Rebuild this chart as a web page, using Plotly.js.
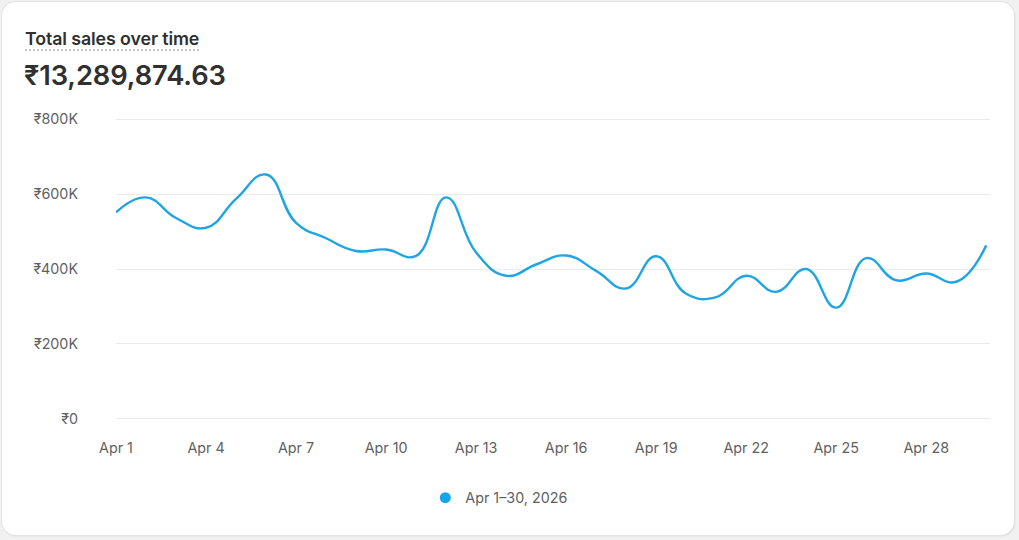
<!DOCTYPE html>
<html>
<head>
<meta charset="utf-8">
<script src="https://cdn.plot.ly/plotly-3.0.1.min.js"></script>
<style>
  html, body { margin: 0; padding: 0; background: #f1f1f1; font-family: Inter, "Noto Sans", sans-serif; }
  .card {
    position: absolute; left: 2px; top: 2px; width: 1012px; height: 533px;
    background: #fff; border-radius: 14px;
    box-shadow: 0 0 0 1px #e3e3e3, 1px 1px 2px rgba(0,0,0,0.12);
    overflow: hidden;
  }
  .title {
    position: absolute; left: 23px; top: 26px; font-size: 17.8px; font-weight: 600; color: #303030;
    border-bottom: 2px dotted #c4c4c4; padding-bottom: 0px; letter-spacing: -0.1px;
  }
  .total {
    position: absolute; left: 22px; top: 57px; font-size: 27.3px; font-weight: 600; color: #303030;
    letter-spacing: -0.1px;
  }
  #salesChart { position: absolute; left: -2px; top: -2px; width: 1019px; height: 540px; }
</style>
</head>
<body>
<div class="card">
  <div id="salesChart"></div>
  <div class="title">Total sales over time</div>
  <div class="total">₹13,289,874.63</div>
</div>
<script>
const days = [
    '2026-04-01', '2026-04-02', '2026-04-03', '2026-04-04', '2026-04-05', '2026-04-06',
    '2026-04-07', '2026-04-08', '2026-04-09', '2026-04-10', '2026-04-11', '2026-04-12',
    '2026-04-13', '2026-04-14', '2026-04-15', '2026-04-16', '2026-04-17', '2026-04-18',
    '2026-04-19', '2026-04-20', '2026-04-21', '2026-04-22', '2026-04-23', '2026-04-24',
    '2026-04-25', '2026-04-26', '2026-04-27', '2026-04-28', '2026-04-29', '2026-04-30'
];
const sales = [
    551000, 591000, 536000, 510000, 587000, 652000,
    523000, 482000, 448000, 452000, 435000, 591000,
    444000, 382000, 412000, 436000, 395000, 348000,
    434000, 334000, 325000, 382000, 339000, 400000,
    297000, 429000, 370000, 388000, 366000, 463000
];
const seriesName = 'Apr 1–30, 2026';
const yTickVals = [0, 200000, 400000, 600000, 800000];
const yTickText = ['₹0', '₹200K', '₹400K', '₹600K', '₹800K'];
const xTickVals = ['2026-04-01', '2026-04-04', '2026-04-07', '2026-04-10', '2026-04-13',
    '2026-04-16', '2026-04-19', '2026-04-22', '2026-04-25', '2026-04-28'];
const xTickText = ['Apr 1', 'Apr 4', 'Apr 7', 'Apr 10', 'Apr 13',
    'Apr 16', 'Apr 19', 'Apr 22', 'Apr 25', 'Apr 28'];

const lineColor = '#1fa5e3';

const trace = {
    x: days,
    y: sales,
    name: seriesName,
    type: 'scatter',
    mode: 'lines',
    line: { color: lineColor, width: 2.4, shape: 'spline', smoothing: 1.3 },
    showlegend: false,
    hoverinfo: 'skip'
};

// legend entry only: round dot like the original
const legendDot = {
    x: [null],
    y: [null],
    name: seriesName,
    type: 'scatter',
    mode: 'markers',
    marker: { color: '#14a6ec', size: 11, symbol: 'circle' },
    showlegend: true
};

const layout = {
    width: 1019,
    height: 540,
    // range padded a little so the 0 and 800K grid lines are drawn
    margin: { l: 116, r: 29, t: 115, b: 117 },
    paper_bgcolor: 'rgba(0,0,0,0)',
    plot_bgcolor: 'rgba(0,0,0,0)',
    font: { family: 'Inter, "Noto Sans", sans-serif', size: 14.3, color: '#616161' },
    showlegend: true,
    legend: {
        orientation: 'h',
        xref: 'container',
        x: 0.49, xanchor: 'center',
        yref: 'container',
        y: 0.078, yanchor: 'middle',
        font: { size: 14.3, color: '#616161' },
        itemwidth: 30
    },
    xaxis: {
        type: 'date',
        range: ['2026-04-01', '2026-04-30 03:00'],
        tickvals: xTickVals,
        ticktext: xTickText,
        showgrid: false,
        zeroline: false,
        showline: false,
        ticks: '',
        ticklabelstandoff: 15
    },
    yaxis: {
        range: [-10700, 810700],
        tickvals: yTickVals,
        ticktext: yTickText,
        showgrid: true,
        gridcolor: '#ebebeb',
        gridwidth: 1,
        zeroline: false,
        showline: false,
        ticks: '',
        ticklabelstandoff: 37
    }
};

Plotly.newPlot('salesChart', [trace, legendDot], layout, { displayModeBar: false, staticPlot: true });
</script>
</body>
</html>
